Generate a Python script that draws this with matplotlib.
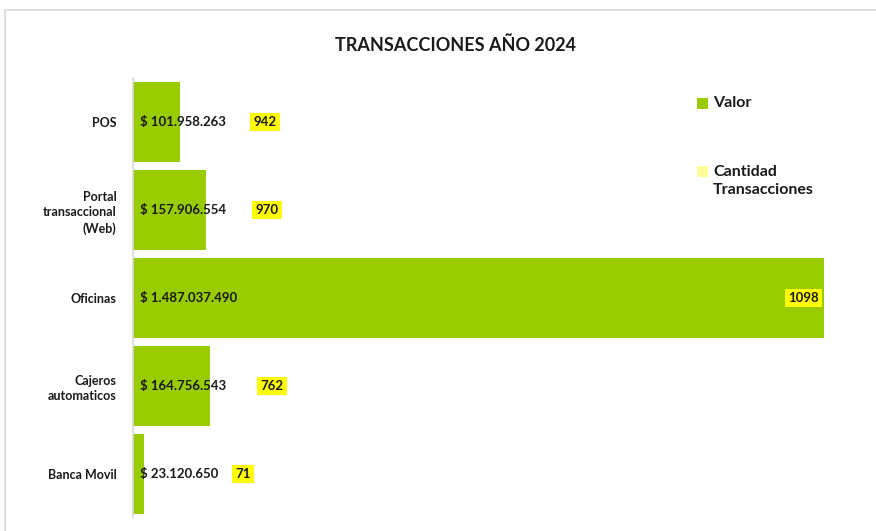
import matplotlib.pyplot as plt
from matplotlib.patches import Rectangle

plt.rcParams['font.family'] = ['Lato', 'DejaVu Sans']

categorias = ['POS', 'Portal\ntransaccional\n(Web)', 'Oficinas', 'Cajeros\nautomaticos', 'Banca Movil']
valor = [101958263, 157906554, 1487037490, 164756543, 23120650]
cantidad = [942, 970, 1098, 762, 71]
etiquetas_valor = ['$ 101.958.263', '$ 157.906.554', '$ 1.487.037.490', '$ 164.756.543', '$ 23.120.650']

# posicion horizontal de las etiquetas de cantidad (fraccion del eje)
pos_cantidad = [0.191, 0.194, 0.970, 0.201, 0.159]

verde = '#99CC00'
amarillo = '#FFFF00'

fig = plt.figure(figsize=(8.76, 5.31), dpi=100)
# marco del grafico (solo se ven borde superior e izquierdo)
fig.patches.append(Rectangle((5 / 876, -0.1), 1.2, 1.1 - 10 / 531, transform=fig.transFigure,
                             fill=False, edgecolor='#d9d9d9', lw=1.2))
ax = fig.add_axes([133 / 876, 13 / 531, 691 / 876, 440 / 531])

y = list(range(len(categorias)))
ax.barh(y, valor, height=0.92, color=verde, label='Valor', zorder=2)
ax.set_ylim(len(categorias) - 0.5, -0.5)
ax.set_xlim(0, max(valor))

for i in y:
    ax.text(0.01, i, etiquetas_valor[i], transform=ax.get_yaxis_transform(),
            ha='left', va='center', fontsize=9.5, fontweight='bold', color='#1a1a1a', zorder=3)
    ax.text(pos_cantidad[i], i, str(cantidad[i]), transform=ax.get_yaxis_transform(),
            ha='center', va='center', fontsize=9.5, fontweight='bold', color='#1a1a1a', zorder=3,
            bbox=dict(boxstyle='square,pad=0.25', facecolor=amarillo, edgecolor='none'))

ax.set_yticks(y)
ax.set_yticklabels(categorias, fontsize=9, fontweight='bold', color='#1a1a1a', linespacing=1.35)
ax.tick_params(axis='y', length=0, pad=12)
ax.set_xticks([])
for s in ['top', 'right', 'bottom']:
    ax.spines[s].set_visible(False)
ax.spines['left'].set_color('#d9d9d9')
ax.spines['left'].set_linewidth(1.2)

fig.text(455 / 876, 1 - 45 / 531, 'TRANSACCIONES AÑO 2024', ha='center', va='center',
         fontsize=13, fontweight='bold', color='#1a1a1a')

# leyenda
fig.patches.append(Rectangle((697 / 876, 1 - 109 / 531), 11 / 876, 11 / 531,
                             transform=fig.transFigure, facecolor=verde, edgecolor='none'))
fig.text(713 / 876, 1 - 103 / 531, 'Valor', ha='left', va='center', fontsize=11.5,
         fontweight='bold', color='#1a1a1a')
fig.patches.append(Rectangle((697 / 876, 1 - 177 / 531), 11 / 876, 11 / 531,
                             transform=fig.transFigure, facecolor='#FFFF99', edgecolor='none'))
fig.text(713 / 876, 1 - 181 / 531, 'Cantidad\nTransacciones', ha='left', va='center', fontsize=11.5,
         fontweight='bold', color='#1a1a1a', linespacing=1.45)

fig.savefig('out.png', dpi=100)
